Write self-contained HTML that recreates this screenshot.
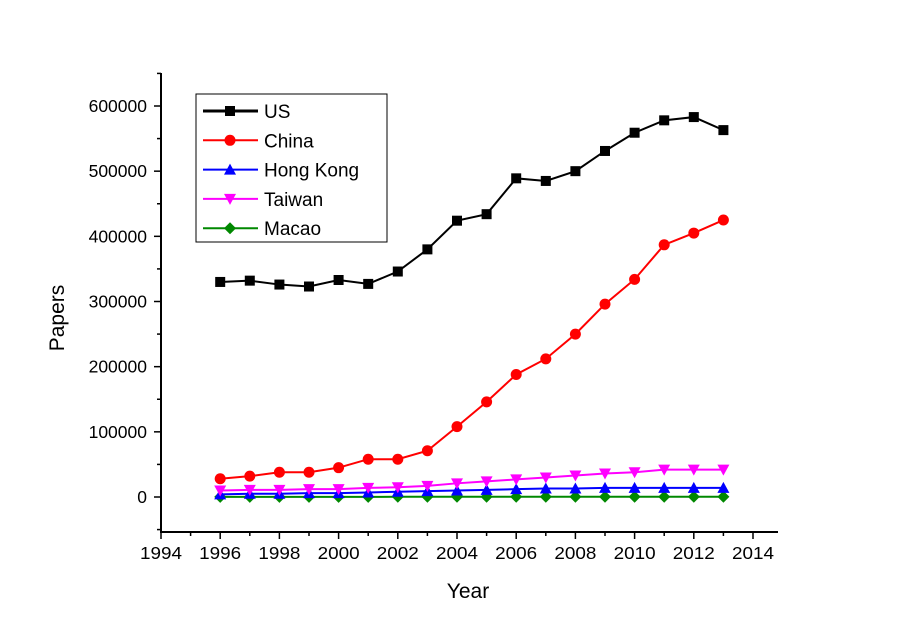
<!DOCTYPE html>
<html><head><meta charset="utf-8"><style>
body{margin:0;background:#fff;}
svg text{font-family:"Liberation Sans",Arial,sans-serif;}
</style></head><body>
<svg id="chart" width="900" height="636" xmlns="http://www.w3.org/2000/svg">
<rect width="900" height="636" fill="#fff"/>
<g id="axes"></g>
<g id="series"></g>
<g id="legend"></g>
</svg>
<script>
const years=[1996,1997,1998,1999,2000,2001,2002,2003,2004,2005,2006,2007,2008,2009,2010,2011,2012,2013];
const usVals=[330000,332000,326000,323000,333000,327000,346000,380000,424000,434000,489000,485000,500000,531000,559000,578000,583000,563000];
const chinaVals=[28000,32000,38000,38000,45000,58000,58000,71000,108000,146000,188000,212000,250000,296000,334000,387000,405000,425000];
const hkVals=[4000,5000,5000,6000,6000,7000,8000,9000,10000,11000,12000,13000,13000,14000,14000,14000,14000,14000];
const twVals=[10000,11000,11000,12000,12000,14000,15000,17000,21000,24000,27000,30000,33000,36000,38000,42000,42000,42000];
const macaoVals=[200,200,200,200,200,200,300,300,300,300,300,400,400,400,400,400,400,400];
const xTicks=[1994,1996,1998,2000,2002,2004,2006,2008,2010,2012,2014];
const yTicks=[0,100000,200000,300000,400000,500000,600000];
const seriesNames=["US","China","Hong Kong","Taiwan","Macao"];

const NS="http://www.w3.org/2000/svg";
const xS=v=>161+(v-1994)*29.6;
const yS=v=>497-v*(391/600000);
function mk(t,a,p){const e=document.createElementNS(NS,t);for(const k in a)e.setAttribute(k,a[k]);p.appendChild(e);return e;}
const axes=document.getElementById('axes');
const xa=mk('line',{x1:161,y1:532,x2:778,y2:532,stroke:'#000','stroke-width':2},axes);


const ya=mk('line',{x1:161,y1:73,x2:161,y2:533,stroke:'#000','stroke-width':2},axes);


for(let y=1994;y<=2015;y++){const x=xS(y);if(x>778)break;mk('line',{x1:x,y1:532,x2:x,y2:y%2==0?539:536,stroke:'#000','stroke-width':1.5},axes);}
xTicks.forEach(t=>{const e=mk('text',{x:xS(t),y:559,'text-anchor':'middle','font-size':17.5,'textLength':42,'lengthAdjust':'spacingAndGlyphs'},axes);e.textContent=t;

});
for(let v=-50000;v<=650000;v+=50000){const y=yS(v);if(y<73)break;mk('line',{x1:161,y1:y,x2:v%100000==0?154:157,y2:y,stroke:'#000','stroke-width':1.5},axes);}
yTicks.forEach(t=>{const e=mk('text',{x:147,y:yS(t)+6,'text-anchor':'end','font-size':17.5},axes);e.textContent=t;

});
const xt=mk('text',{x:468,y:598,'text-anchor':'middle','font-size':21},axes);xt.textContent='Year';


const yt=mk('text',{x:0,y:0,'text-anchor':'middle','font-size':21,transform:'translate(64,318) rotate(-90)'},axes);yt.textContent='Papers';



const cols=['#000','#f00','#00f','#f0f','#080'];
const shapes=['square','circle','up','down','diamond'];
const data=[usVals,chinaVals,hkVals,twVals,macaoVals];
function marker(s,x,y,c,p){
 if(s=='square')return mk('rect',{x:x-5,y:y-5,width:10,height:10,fill:c},p);
 if(s=='circle')return mk('circle',{cx:x,cy:y,r:5.5,fill:c},p);
 if(s=='up')return mk('polygon',{points:`${x},${y-6} ${x-6},${y+5} ${x+6},${y+5}`,fill:c},p);
 if(s=='down')return mk('polygon',{points:`${x},${y+6} ${x-6},${y-5} ${x+6},${y-5}`,fill:c},p);
 return mk('polygon',{points:`${x},${y-6} ${x+6},${y} ${x},${y+6} ${x-6},${y}`,fill:c},p);
}
const sg=document.getElementById('series');
[4,2,3,1,0].forEach(i=>{
 const g=mk('g',{},sg);
 
 
 mk('polyline',{points:years.map((y,j)=>xS(y)+','+yS(data[i][j])).join(' '),fill:'none',stroke:cols[i],'stroke-width':2},g);
 years.forEach((y,j)=>{const m=marker(shapes[i],xS(y),yS(data[i][j]),cols[i],g);
 
 });
});
const lg=document.getElementById('legend');


mk('rect',{x:196,y:94,width:191,height:148,fill:'#fff',stroke:'#000','stroke-width':1},lg);
seriesNames.forEach((n,i)=>{const y=111+i*29.3;
 const g=mk('g',{},lg);
 
 
 mk('line',{x1:203,y1:y,x2:258,y2:y,stroke:cols[i],'stroke-width':i==0?3:2},g);
 marker(shapes[i],230,y,cols[i],g);
 const t=mk('text',{x:264,y:y+7,'font-size':19},g);t.textContent=n;});
</script>
</body></html>
